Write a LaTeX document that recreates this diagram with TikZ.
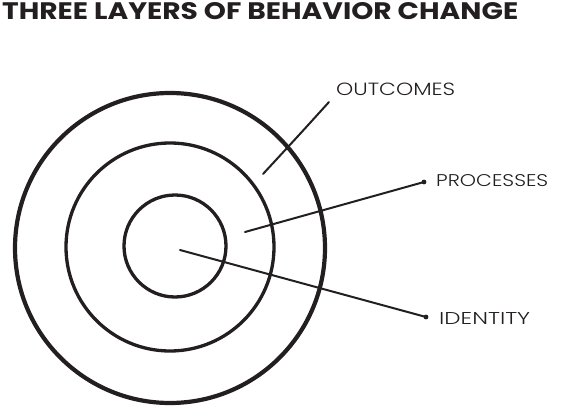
\documentclass[tikz,border=0pt]{standalone}
\usepackage{fontspec}
\setmainfont{Poppins}
\newfontfamily\titlefont{Poppins}[UprightFont=* Bold]
\newfontfamily\labfont{Poppins}[UprightFont=* Light]
\newcommand{\fitbox}[3]{\resizebox{#1}{#2}{#3}}
\definecolor{ink}{HTML}{231F20}
\begin{document}
\begin{tikzpicture}[x=1pt,y=-1pt, color=ink,
  ring/.style={draw=ink, circle, inner sep=0pt, line width=3.3pt},
  lab/.style={anchor=south west, inner sep=0pt, text=ink, font=\labfont},
  conn/.style={draw=ink, line width=2pt, line cap=round},
  tipdot/.style={fill=ink, circle, inner sep=0pt, minimum size=4.8pt}]
\useasboundingbox (0,0) rectangle (566,407);
\node[anchor=south west, inner sep=0pt, text=ink, font=\titlefont] (title) at (2,20) {\fitbox{516pt}{17pt}{THREE LAYERS OF BEHAVIOR CHANGE}};
\node[ring, line width=4.2pt, minimum size=310pt] (outer) at (170,248) {};
\node[ring, minimum size=208pt] (middle) at (170,247) {};
\node[ring, minimum size=102pt] (inner) at (175,246) {};
\node[lab] (outcomes) at (336,96) {\fitbox{119pt}{12.5pt}{OUTCOMES}};
\node[lab] (processes) at (436,187) {\fitbox{112pt}{12pt}{PROCESSES}};
\node[lab] (identity) at (439,325) {\fitbox{91pt}{12pt}{IDENTITY}};
\coordinate (o1) at (263,174);
\coordinate (o2) at (329,102);
\coordinate (p1) at (245,232);
\coordinate (p2) at (424,182);
\coordinate (i1) at (180,250);
\coordinate (i2) at (426,317);
\draw[conn] (o1) .. controls (300,134) .. (o2);
\draw[conn] (p1) -- (p2);
\draw[conn] (i1) -- (i2);
\node[tipdot] (pd) at (p2) {};
\node[tipdot] (id) at (i2) {};
\end{tikzpicture}
\end{document}
